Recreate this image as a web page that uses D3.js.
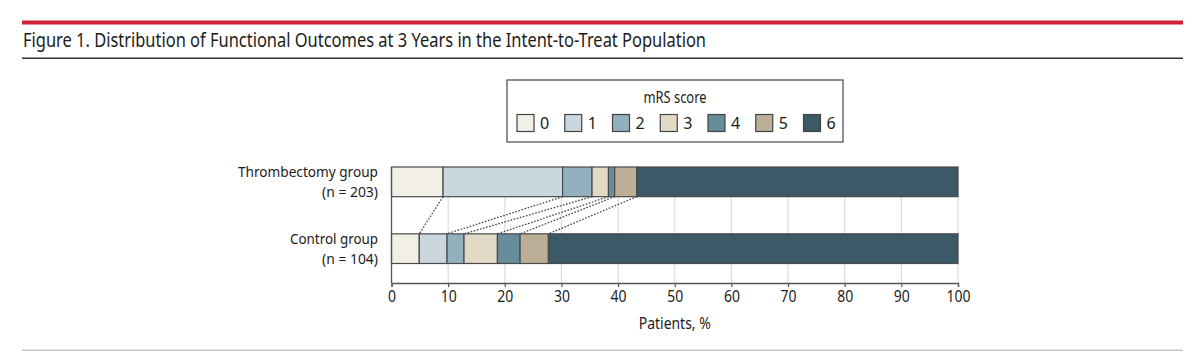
<!DOCTYPE html>
<html><head><meta charset="utf-8">
<script src="https://cdn.jsdelivr.net/npm/d3@7"></script>
<style>
html,body{margin:0;padding:0;background:#fff;}
svg{display:block;}
text{font-family:"Noto Sans","Open Sans",sans-serif;fill:#1c1c1c;}
</style></head>
<body>
<svg id="chart" width="1200" height="351"></svg>
<script>
const titleText = "Figure 1. Distribution of Functional Outcomes at 3 Years in the Intent-to-Treat Population";
const groups = ["Thrombectomy group", "Control group"];
const groupN = ["(n = 203)", "(n = 104)"];
const scores = ["0","1","2","3","4","5","6"];
const thrombectomy = [9.1, 21.1, 5.2, 2.9, 1.1, 3.9, 56.7];
const control = [4.9, 4.9, 3.0, 5.9, 4.0, 5.0, 72.3];
const colors = ["#f1efe6","#cbd7de","#93b0bf","#e2d9c6","#678c9a","#bdae98","#3b5966"];
const xTicks = [0,10,20,30,40,50,60,70,80,90,100];

const svg = d3.select("#chart");
function fit(sel, w){ sel.attr("textLength", w).attr("lengthAdjust","spacingAndGlyphs"); return sel; }

// header rules and title
svg.append("rect").attr("x",22).attr("y",20.5).attr("width",1161).attr("height",4).attr("fill","#d2203b");
fit(svg.append("text").attr("x",23).attr("y",46.5).attr("font-size",19.5).text(titleText), 683);
svg.append("rect").attr("x",22).attr("y",57.5).attr("width",1161).attr("height",1.5).attr("fill","#333");
svg.append("rect").attr("x",22).attr("y",349.5).attr("width",1161).attr("height",1.5).attr("fill","#c4c4c4");

// scales
const x = d3.scaleLinear().domain([0,100]).range([391.5,958]);
const y = d3.scaleBand().domain(groups).range([167,263.5]).paddingInner(0.556).paddingOuter(0);
const plotTop = 167, axisY = 283;
const color = d3.scaleOrdinal().domain(scores).range(colors);

// gridlines
svg.append("g").selectAll("line").data(xTicks.filter(d=>d>0)).join("line")
  .attr("x1",d=>x(d)).attr("x2",d=>x(d)).attr("y1",plotTop).attr("y2",axisY)
  .attr("stroke","#dcdcdc").attr("stroke-width",1.2);

// stacked data
const seriesData = [thrombectomy, control];
function stack(vals){ let c=0; return vals.map((v,i)=>{const s={score:scores[i],x0:c,x1:c+v}; c+=v; return s;}); }
const stacked = seriesData.map(stack);

// dotted connectors
const conn = [];
for (let i=0;i<scores.length-1;i++) conn.push({a:stacked[0][i].x1, b:stacked[1][i].x1});
svg.append("g").selectAll("line").data(conn).join("line")
  .attr("x1",d=>x(d.a)).attr("y1",y(groups[0])+y.bandwidth())
  .attr("x2",d=>x(d.b)).attr("y2",y(groups[1]))
  .attr("stroke","#444").attr("stroke-width",1.3).attr("stroke-dasharray","1.6,1.6");

// bars
groups.forEach((g,gi)=>{
  svg.append("g").selectAll("rect").data(stacked[gi]).join("rect")
    .attr("x",d=>x(d.x0)).attr("width",d=>x(d.x1)-x(d.x0))
    .attr("y",y(g)).attr("height",y.bandwidth())
    .attr("fill",d=>color(d.score)).attr("stroke","#4a4a4a").attr("stroke-width",1.2);
});

// y axis line
svg.append("line").attr("x1",x(0)).attr("x2",x(0)).attr("y1",plotTop).attr("y2",axisY)
  .attr("stroke","#555").attr("stroke-width",1.3);

// x axis
const xAxis = svg.append("g").attr("transform",`translate(0,${axisY})`)
  .call(d3.axisBottom(x).tickValues(xTicks).tickSize(4).tickPadding(4));
xAxis.select(".domain").attr("stroke","#555").attr("stroke-width",1.3);
xAxis.selectAll(".tick line").attr("stroke","#555").attr("stroke-width",1.2);
xAxis.selectAll(".tick text").attr("font-size",16).attr("font-family","Noto Sans, sans-serif").attr("fill","#1c1c1c")
  .each(function(d){ const s=d3.select(this); fit(s, String(d).length*8); });
fit(svg.append("text").attr("x",(x(0)+x(100))/2).attr("y",328.5).attr("text-anchor","middle")
  .attr("font-size",16).text("Patients, %"), 72);

// y labels
const labW = [140, 88], nW = [56, 56];
groups.forEach((g,gi)=>{
  const cy = y(g)+y.bandwidth()/2;
  fit(svg.append("text").attr("x",378).attr("y",cy-4.5).attr("text-anchor","end").attr("font-size",14.5).text(g), labW[gi]);
  fit(svg.append("text").attr("x",378).attr("y",cy+15.5).attr("text-anchor","end").attr("font-size",14.5).text(groupN[gi]), nW[gi]);
});

// legend
const lg = svg.append("g");
lg.append("rect").attr("x",507).attr("y",80).attr("width",336).attr("height",62)
  .attr("fill","#fff").attr("stroke","#555").attr("stroke-width",1.3);
fit(lg.append("text").attr("x",675).attr("y",102.5).attr("text-anchor","middle").attr("font-size",15.5).text("mRS score"), 63);
const lx = d3.scalePoint().domain(scores).range([517,803.5]);
const items = lg.selectAll("g.item").data(scores).join("g").attr("class","item")
  .attr("transform",d=>`translate(${lx(d)},114.5)`);
items.append("rect").attr("width",17).attr("height",17).attr("fill",d=>color(d))
  .attr("stroke","#444").attr("stroke-width",1.2);
items.append("text").attr("x",23).attr("y",14.5).attr("font-size",16).text(d=>d);
</script>
</body></html>
